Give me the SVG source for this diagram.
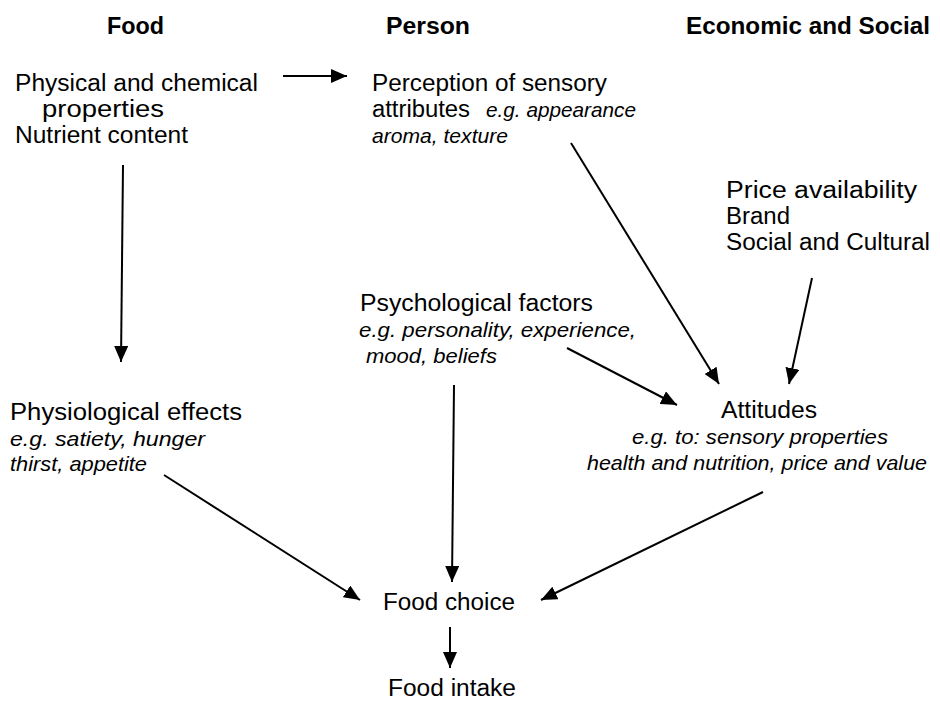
<svg xmlns="http://www.w3.org/2000/svg" width="940" height="703" viewBox="0 0 940 703">
<style>
text{font-family:"Liberation Sans",Arial,sans-serif;fill:#000}
.h{font-size:23px;font-weight:bold}
.t{font-size:23px}
.i{font-size:21px;font-style:italic}
.c{stroke:#000;stroke-width:2;fill:none;marker-end:url(#ah)}
</style>
<defs>
<marker id="ah" markerUnits="userSpaceOnUse" markerWidth="16" markerHeight="14" refX="16" refY="7" orient="auto">
<path d="M0,0 L16,7 L0,14 z" fill="#000"/>
</marker>
</defs>
<rect width="940" height="703" fill="#fff"/>
<g id="headers">
<text class="h" x="107" y="34" textLength="57" lengthAdjust="spacingAndGlyphs">Food</text>
<text class="h" x="386" y="34" textLength="84" lengthAdjust="spacingAndGlyphs">Person</text>
<text class="h" x="686" y="34" textLength="244" lengthAdjust="spacingAndGlyphs">Economic and Social</text>
</g>
<g id="food-properties">
<text class="t" x="15" y="91" textLength="243" lengthAdjust="spacingAndGlyphs">Physical and chemical</text>
<text class="t" x="42" y="117" textLength="122" lengthAdjust="spacingAndGlyphs">properties</text>
<text class="t" x="15" y="143" textLength="173" lengthAdjust="spacingAndGlyphs">Nutrient content</text>
</g>
<g id="perception">
<text class="t" x="372" y="91" textLength="235" lengthAdjust="spacingAndGlyphs">Perception of sensory</text>
<text class="t" x="372" y="117" textLength="98" lengthAdjust="spacingAndGlyphs">attributes</text>
<text class="i" x="486" y="117" textLength="150" lengthAdjust="spacingAndGlyphs">e.g. appearance</text>
<text class="i" x="372" y="143" textLength="136" lengthAdjust="spacingAndGlyphs">aroma, texture</text>
</g>
<g id="economic">
<text class="t" x="726" y="198" textLength="191" lengthAdjust="spacingAndGlyphs">Price availability</text>
<text class="t" x="726" y="224" textLength="64" lengthAdjust="spacingAndGlyphs">Brand</text>
<text class="t" x="726" y="250" textLength="204" lengthAdjust="spacingAndGlyphs">Social and Cultural</text>
</g>
<g id="psychological">
<text class="t" x="360" y="311" textLength="233" lengthAdjust="spacingAndGlyphs">Psychological factors</text>
<text class="i" x="359" y="337" textLength="277" lengthAdjust="spacingAndGlyphs">e.g. personality, experience,</text>
<text class="i" x="366" y="363" textLength="131" lengthAdjust="spacingAndGlyphs">mood, beliefs</text>
</g>
<g id="physiological">
<text class="t" x="10" y="420" textLength="232" lengthAdjust="spacingAndGlyphs">Physiological effects</text>
<text class="i" x="10" y="446" textLength="195" lengthAdjust="spacingAndGlyphs">e.g. satiety, hunger</text>
<text class="i" x="10" y="471" textLength="137" lengthAdjust="spacingAndGlyphs">thirst, appetite</text>
</g>
<g id="attitudes">
<text class="t" x="721" y="418" textLength="96" lengthAdjust="spacingAndGlyphs">Attitudes</text>
<text class="i" x="632" y="444" textLength="256" lengthAdjust="spacingAndGlyphs">e.g. to: sensory properties</text>
<text class="i" x="587" y="470" textLength="340" lengthAdjust="spacingAndGlyphs">health and nutrition, price and value</text>
</g>
<g id="food-choice">
<text class="t" x="383" y="610" textLength="132" lengthAdjust="spacingAndGlyphs">Food choice</text>
</g>
<g id="food-intake">
<text class="t" x="388" y="696" textLength="128" lengthAdjust="spacingAndGlyphs">Food intake</text>
</g>
<g id="connectors">
<line class="c" x1="283" y1="76" x2="347" y2="76"/>
<line class="c" x1="123" y1="165" x2="121" y2="362"/>
<line class="c" x1="571" y1="143" x2="719" y2="384"/>
<line class="c" x1="812" y1="278" x2="789" y2="384"/>
<line class="c" x1="567" y1="348" x2="677" y2="405"/>
<line class="c" x1="454" y1="385" x2="452" y2="582"/>
<line class="c" x1="164" y1="475" x2="360" y2="600"/>
<line class="c" x1="763" y1="492" x2="541" y2="600"/>
<line class="c" x1="450" y1="627" x2="450" y2="668"/>
</g>
</svg>
